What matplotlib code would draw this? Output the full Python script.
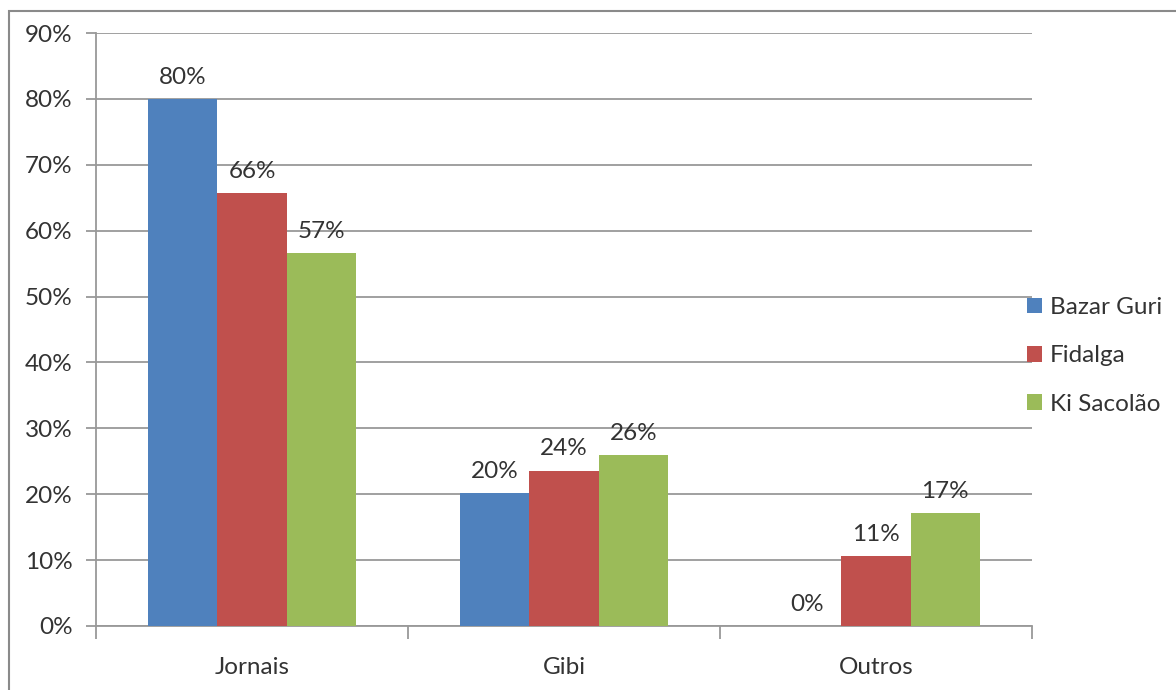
import numpy as np
import matplotlib.pyplot as plt
from matplotlib.patches import Rectangle
from matplotlib.ticker import PercentFormatter

plt.rcParams['font.family'] = ['Lato', 'DejaVu Sans']

categorias = ['Jornais', 'Gibi', 'Outros']
lojas = ['Bazar Guri', 'Fidalga', 'Ki Sacolão']
bazar_guri = [0.80, 0.202, 0.0]
fidalga = [0.657, 0.236, 0.106]
ki_sacolao = [0.566, 0.259, 0.172]
cores = ['#4F81BD', '#C0504D', '#9BBB59']

texto = '#333333'
grade = '#999999'
fs = 17.5

fig = plt.figure(figsize=(11.76, 6.9), dpi=100)
ax = fig.add_axes([96/1176, 64/690, 936/1176, 593/690])

# moldura do grafico
fig.patches.append(Rectangle((9/1176, -0.05), 1.2, (690-11)/690 + 0.05,
                             transform=fig.transFigure, fill=False,
                             edgecolor='#8a8a8a', lw=1.5))

x = np.arange(len(categorias))
w = 1/4.5
for i, (serie, cor, nome) in enumerate(zip([bazar_guri, fidalga, ki_sacolao], cores, lojas)):
    pos = x + (i - 1) * w
    barras = ax.bar(pos, serie, width=w, color=cor, label=nome, zorder=3)
    for b, v in zip(barras, serie):
        ax.annotate(f'{v:.0%}', (b.get_x() + b.get_width()/2, v),
                    xytext=(0, 8), textcoords='offset points',
                    ha='center', va='bottom', fontsize=fs, color=texto)

ax.set_xlim(-0.5, 2.5)
ax.set_ylim(0, 0.9)
ax.set_yticks(np.arange(0, 0.91, 0.1))
ax.yaxis.set_major_formatter(PercentFormatter(1.0, decimals=0))
ax.yaxis.grid(True, color=grade, lw=1.3, zorder=0)
ax.set_axisbelow(True)

ax.set_xticks(x)
ax.set_xticklabels(categorias)
ax.set_xticks([-0.5, 0.5, 1.5, 2.5], minor=True)
ax.tick_params(axis='x', which='major', length=0, pad=22, labelsize=fs, labelcolor=texto)
ax.tick_params(axis='x', which='minor', length=9, width=1.3, color=grade, direction='out')
ax.tick_params(axis='y', length=7, width=1.3, color=grade, pad=10, labelsize=fs, labelcolor=texto)

for lado in ['top', 'right']:
    ax.spines[lado].set_visible(False)
for lado in ['left', 'bottom']:
    ax.spines[lado].set_color(grade)
    ax.spines[lado].set_linewidth(1.3)

ax.legend(loc='center left', bbox_to_anchor=(1027/1176, (690-356)/690),
          bbox_transform=fig.transFigure, frameon=False,
          fontsize=fs, labelcolor=texto, handlelength=0.6, handleheight=0.6,
          handletextpad=0.35, labelspacing=1.12, borderaxespad=0, borderpad=0)

fig.savefig('out.png', dpi=100)
